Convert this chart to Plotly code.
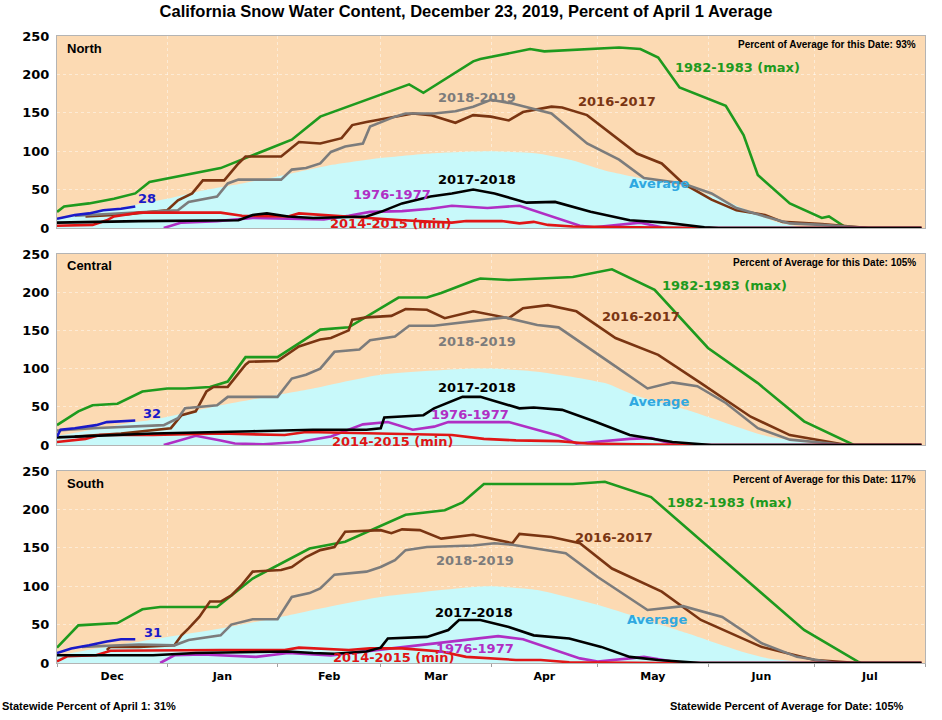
import pandas as pd
import plotly.graph_objects as go

# ---------------- data (day of season counted from Dec 1, percent of April 1 average) -------------
TITLE = "California Snow Water Content, December 23, 2019, Percent of April 1 Average"
REGIONS = ["North", "Central", "South"]
PCT_OF_AVG_DATE = ["93%", "105%", "117%"]
CURRENT = ["28", "32", "31"]
FOOT_LEFT = "Statewide Percent of April 1: 31%"
FOOT_RIGHT = "Statewide Percent of Average for Date: 105%"

N_AVG = [(0, 11), (10, 20), (22, 30), (31, 38), (40, 48), (52, 58), (62, 67), (76, 81), (90, 91), (104, 97),
         (116, 99.5), (121, 100), (134, 97), (144, 88), (153, 75), (165, 63), (176, 52), (186, 37), (195, 19),
         (201, 8), (207, 2), (212, 0), (242, 0)]
N_1983 = [(0, 21), (2, 28), (9, 32), (16, 38), (22, 45), (26, 60), (46, 78), (55, 95), (66, 115), (74, 145),
          (98, 187), (102, 176), (110, 199), (116, 217), (118, 220), (132, 233), (136, 230), (157, 235), (163, 233),
          (168, 222), (174, 183), (187, 159), (192, 121), (196, 69), (205, 32), (214, 13), (216, 15), (221, 0), (242, 0)]
N_2017 = [(8, 15), (20, 18), (31, 23), (34, 36), (38, 45), (41, 62), (47, 62), (51, 84), (53, 93), (63, 93), (68, 112),
          (74, 110), (80, 117), (83, 134), (87, 138), (96, 147), (99, 149), (104, 147), (111, 137), (116, 147),
          (121, 145), (126, 140), (130, 151), (138, 158), (141, 157), (148, 147), (156, 119), (162, 97), (169, 84),
          (175, 58), (183, 37), (190, 23), (198, 17), (203, 8), (214, 5), (221, 2), (227, 0), (242, 0)]
N_2019 = [(5, 16), (22, 20), (34, 23), (37, 34), (45, 41), (48, 58), (51, 63), (63, 63), (66, 76), (70, 78), (74, 84),
          (77, 99), (81, 106), (86, 110), (88, 132), (94, 145), (97, 149), (105, 149), (111, 152), (116, 158),
          (121, 167), (127, 162), (134, 154), (138, 149), (148, 110), (157, 89), (164, 65), (175, 58), (183, 45),
          (190, 26), (198, 15), (205, 6), (214, 4), (227, 0), (242, 0)]
N_2018 = [(0, 7), (23, 9), (51, 10), (55, 17), (59, 19), (65, 15), (72, 13), (87, 15), (90, 21), (96, 32), (104, 41),
          (110, 45), (116, 50), (122, 45), (131, 33), (139, 34), (149, 21), (160, 10), (170, 7), (181, 1), (185, 0),
          (242, 0)]
N_1977 = [(30, 0), (35, 7), (45, 9), (55, 13), (65, 12), (75, 11), (82, 16), (88, 21), (96, 22), (104, 25),
          (110, 29), (120, 26), (129, 29), (146, 3), (150, 1), (156, 4), (163, 7), (167, 3), (170, 0), (242, 0)]
N_2015 = [(0, 3), (10, 4), (14, 10), (16, 15), (23, 20), (46, 20), (52, 16), (65, 15), (68, 19), (82, 15), (96, 10),
          (110, 7), (114, 9), (124, 9), (129, 6), (133, 8), (137, 4), (144, 2), (160, 1), (180, 0), (242, 0)]
N_2020 = [(0, 12), (5, 17), (9, 19), (13, 23), (18, 25), (22, 28)]

C_AVG = [(0, 12), (10, 20), (22, 30), (27, 33), (46, 52), (65, 68), (72, 74), (90, 92), (116, 100), (121, 100),
         (134, 96), (153, 81), (162, 64), (176, 46), (190, 24), (199, 11), (209, 4), (214, 0), (242, 0)]
C_1983 = [(0, 26), (6, 44), (10, 52), (17, 54), (24, 70), (31, 74), (36, 74), (43, 76), (48, 83), (53, 115), (62, 115),
          (74, 151), (82, 154), (95, 193), (103, 193), (107, 199), (116, 215), (118, 218), (126, 216), (144, 220),
          (155, 230), (167, 203), (182, 127), (196, 81), (209, 31), (222, 2), (223, 0), (242, 0)]
C_2017 = [(5, 11), (18, 15), (32, 22), (35, 39), (39, 44), (42, 70), (44, 76), (48, 76), (53, 105), (54, 109),
          (62, 110), (68, 129), (74, 138), (77, 140), (82, 150), (83, 164), (87, 167), (93, 169), (97, 178), (103, 177),
          (108, 166), (116, 175), (126, 166), (130, 179), (137, 183), (145, 175), (156, 140), (168, 118), (180, 81),
          (194, 37), (205, 13), (218, 2), (221, 0), (242, 0)]
C_2019 = [(0, 19), (10, 22), (30, 26), (34, 35), (36, 48), (45, 52), (48, 63), (62, 63), (66, 87), (70, 92),
          (74, 100), (78, 122), (85, 125), (88, 137), (94, 142), (98, 156), (105, 156), (116, 162), (125, 167),
          (134, 157), (140, 154), (156, 103), (165, 74), (172, 82), (179, 77), (187, 55), (196, 22), (205, 7),
          (218, 1), (221, 0), (242, 0)]
C_2018 = [(0, 10), (27, 15), (55, 18), (72, 20), (87, 20), (90, 22), (91, 36), (102, 39), (105, 48), (113, 63),
          (118, 63), (129, 48), (133, 49), (141, 46), (150, 31), (160, 13), (172, 4), (183, 0), (242, 0)]
C_1977 = [(30, 0), (39, 12), (46, 6), (50, 2), (58, 1), (68, 4), (77, 11), (86, 27), (92, 30), (99, 20), (105, 24),
          (109, 30), (126, 30), (140, 12), (145, 2), (160, 8), (166, 9), (173, 0), (242, 0)]
C_2015 = [(0, 4), (8, 8), (12, 13), (27, 13), (46, 15), (64, 13), (70, 17), (80, 16), (96, 15), (110, 13), (119, 8),
          (128, 6), (140, 5), (148, 2), (162, 1), (180, 0), (242, 0)]
C_2020 = [(0, 11), (1, 20), (5, 22), (11, 26), (14, 30), (22, 32)]

S_AVG = [(0, 10), (10, 18), (22, 27), (27, 31), (46, 45), (65, 62), (72, 69), (90, 86), (116, 99), (121, 100),
         (134, 95), (153, 73), (162, 60), (176, 39), (190, 17), (199, 6), (208, 2), (214, 0), (242, 0)]
S_1983 = [(0, 20), (6, 49), (17, 52), (24, 70), (29, 73), (45, 73), (55, 110), (71, 149), (81, 158), (97, 193),
          (108, 199), (113, 209), (116, 221), (119, 233), (144, 233), (153, 236), (166, 216), (209, 43), (224, 2),
          (225, 0), (242, 0)]
S_2017 = [(14, 17), (15, 21), (23, 21), (33, 23), (35, 36), (37, 45), (40, 60), (43, 80), (46, 80), (49, 88),
          (52, 102), (55, 119), (63, 121), (66, 125), (70, 138), (74, 147), (78, 151), (81, 171), (90, 173), (93, 169),
          (96, 174), (101, 173), (107, 162), (116, 167), (127, 156), (129, 168), (138, 164), (146, 156), (155, 123),
          (165, 102), (169, 93), (180, 56), (197, 21), (212, 4), (224, 0), (242, 0)]
S_2019 = [(7, 21), (23, 24), (33, 23), (37, 30), (46, 36), (49, 50), (55, 57), (62, 57), (66, 86), (71, 91), (74, 97),
          (78, 115), (87, 119), (90, 125), (94, 134), (97, 147), (103, 151), (116, 153), (122, 156), (127, 154),
          (142, 143), (151, 112), (165, 69), (175, 74), (186, 60), (197, 26), (207, 8), (218, 0), (242, 0)]
S_2018 = [(0, 10), (27, 10), (39, 13), (65, 15), (72, 13), (78, 12), (87, 15), (90, 20), (92, 32), (103, 34),
          (109, 43), (112, 56), (118, 56), (126, 47), (133, 36), (143, 32), (152, 21), (160, 8), (168, 4), (180, 0),
          (242, 0)]
S_1977 = [(29, 0), (33, 10), (41, 11), (56, 8), (65, 13), (77, 10), (123, 35), (130, 31), (146, 6), (151, 2),
          (160, 6), (164, 8), (172, 2), (174, 0), (242, 0)]
S_2015 = [(0, 2), (3, 9), (11, 10), (15, 16), (46, 17), (64, 17), (68, 20), (72, 19), (82, 17), (88, 19), (96, 19),
          (107, 15), (114, 8), (128, 4), (135, 4), (143, 1), (170, 0), (242, 0)]
S_2020 = [(0, 13), (4, 19), (9, 23), (14, 28), (18, 31), (22, 31)]

# ---------------- styling ----------------
PEACH = "#FCDAB3"
CYAN = "#C8F9FA"
GREEN = "#1E9A1E"
BROWN = "#7A3512"
GRAY = "#7C7C7C"
BLACK = "#000000"
MAGENTA = "#B02FC4"
RED = "#E01616"
BLUE = "#1A1AC8"
AVGBLUE = "#2FA8E0"
LBL = "DejaVu Sans"
ARIAL = "Liberation Sans"

SERIES = [
    ("1982-1983", [N_1983, C_1983, S_1983], GREEN),
    ("2016-2017", [N_2017, C_2017, S_2017], BROWN),
    ("2018-2019", [N_2019, C_2019, S_2019], GRAY),
    ("1976-1977", [N_1977, C_1977, S_1977], MAGENTA),
    ("2014-2015", [N_2015, C_2015, S_2015], RED),
    ("2017-2018", [N_2018, C_2018, S_2018], BLACK),
    ("2019-2020", [N_2020, C_2020, S_2020], BLUE),
]
AVERAGES = [N_AVG, C_AVG, S_AVG]

BASE = pd.Timestamp("2018-12-01")


def to_date(d):
    # day of season on a 365-day calendar, shown on the 2019-2020 season axis
    t = BASE + pd.Timedelta(days=float(d))
    return t + pd.DateOffset(years=1)


def xs(pts):
    return [to_date(p[0]) for p in pts]


def ys(pts):
    return [p[1] for p in pts]


# label placements (day, value) per panel
LABELS = [
    [("1982-1983 (max)", 190.4, 208.7, GREEN, "center"), ("2016-2017", 156.4, 164.5, BROWN, "center"),
     ("2018-2019", 117, 169.7, GRAY, "center"), ("2017-2018", 117, 63.4, BLACK, "center"),
     ("1976-1977", 93.2, 43, MAGENTA, "center"), ("2014-2015 (min)", 92.8, 6, RED, "center"),
     ("Average", 168.1, 58, AVGBLUE, "center"), (CURRENT[0], 22.1, 37.8, BLUE, "left")],
    [("1982-1983 (max)", 186.7, 209.4, GREEN, "center"), ("2016-2017", 163.2, 168.8, BROWN, "center"),
     ("2018-2019", 117, 136, GRAY, "center"), ("2017-2018", 117, 75, BLACK, "center"),
     ("1976-1977", 115, 39.3, MAGENTA, "center"), ("2014-2015 (min)", 93.2, 4.4, RED, "center"),
     ("Average", 168.1, 56.7, AVGBLUE, "center"), (CURRENT[1], 23.5, 40.6, BLUE, "left")],
    [("1982-1983 (max)", 188.1, 208.7, GREEN, "center"), ("2016-2017", 155.7, 163.7, BROWN, "center"),
     ("2018-2019", 116.5, 133.2, GRAY, "center"), ("2017-2018", 116.2, 65.5, BLACK, "center"),
     ("1976-1977", 116.5, 19.1, MAGENTA, "center"), ("2014-2015 (min)", 93.6, 7, RED, "center"),
     ("Average", 167.6, 56.9, AVGBLUE, "center"), (CURRENT[2], 23.8, 39.5, BLUE, "left")],
]

DOMAINS = [(0.6938, 1.0), (0.3477, 0.6523), (0.0, 0.3062)]
REGION_Y = [0.936, 0.939, 0.936]
PCT_Y = [0.957, 0.957, 0.958]

fig = go.Figure()
annotations = []

for i in range(3):
    sfx = "" if i == 0 else str(i + 1)
    xa, ya = "x" + sfx, "y" + sfx
    avg = AVERAGES[i]
    fig.add_trace(go.Scatter(x=xs(avg), y=ys(avg), mode="lines", fill="tozeroy", fillcolor=CYAN,
                             line=dict(width=0, shape="spline", smoothing=0.6, color=CYAN),
                             xaxis=xa, yaxis=ya, showlegend=False, name="Average"))
    for name, data, color in SERIES:
        pts = data[i]
        fig.add_trace(go.Scatter(x=xs(pts), y=ys(pts), mode="lines", line=dict(color=color, width=2.6),
                                 xaxis=xa, yaxis=ya, showlegend=False, name=name))
    for text, d, v, color, anchor in LABELS[i]:
        annotations.append(dict(text=text, x=to_date(d), y=v, xref=xa, yref=ya, showarrow=False,
                                xanchor=anchor, yanchor="middle",
                                font=dict(family=LBL, size=13, color=color, weight="bold")))
    annotations.append(dict(text=REGIONS[i], x=0.009, y=REGION_Y[i], xref=xa + " domain", yref=ya + " domain",
                            showarrow=False, xanchor="left", yanchor="middle",
                            font=dict(family=ARIAL, size=13, color="black", weight="bold")))
    annotations.append(dict(text="Percent of Average for this Date: " + PCT_OF_AVG_DATE[i], x=0.992, y=PCT_Y[i],
                            xref=xa + " domain", yref=ya + " domain", showarrow=False, xanchor="right",
                            yanchor="middle", font=dict(family=ARIAL, size=10, color="black", weight="bold")))

annotations.append(dict(text=FOOT_LEFT, x=-57 / 868, y=(663 - 706) / 627, xref="paper", yref="paper",
                        showarrow=False, xanchor="left", yanchor="middle",
                        font=dict(family=ARIAL, size=11, color="black", weight="bold")))
annotations.append(dict(text=FOOT_RIGHT, x=(906 - 57) / 868, y=(663 - 706) / 627, xref="paper", yref="paper",
                        showarrow=False, xanchor="right", yanchor="middle",
                        font=dict(family=ARIAL, size=11, color="black", weight="bold")))

fig.update_layout(
    width=942, height=720,
    margin=dict(l=57, r=17, t=36, b=57),
    paper_bgcolor="white",
    plot_bgcolor=PEACH,
    title=dict(text=TITLE, x=466 / 942, xref="container", y=1 - 11 / 720, yref="container",
               xanchor="center", yanchor="middle",
               font=dict(family=ARIAL, size=16.5, color="black", weight="bold")),
    annotations=annotations,
    showlegend=False,
)

for i in range(3):
    sfx = "" if i == 0 else str(i + 1)
    xkey, ykey = "xaxis" + sfx, "yaxis" + sfx
    fig.layout[xkey] = dict(
        type="date", range=[to_date(0), to_date(243)], domain=[0, 1],
        anchor="y" + sfx, dtick="M1", tick0=to_date(0), tickformat="%b", ticklabelmode="period",
        showticklabels=(i == 2), ticks="outside" if i == 2 else "", ticklen=3, tickcolor="#A0A0A0",
        showgrid=True, gridcolor="rgba(255,255,255,0.45)", griddash="dot", gridwidth=1,
        showline=True, linecolor="#B4B4B4", linewidth=1, mirror=True, zeroline=False,
        tickfont=dict(family=LBL, size=11, color="black", weight="bold"),
        matches=None if i == 0 else "x",
    )
    fig.layout[ykey] = dict(
        range=[0, 250], domain=list(DOMAINS[i]), anchor="x" + sfx, dtick=50, tick0=0,
        showgrid=True, gridcolor="rgba(255,255,255,0.45)", griddash="dot", gridwidth=1,
        showline=True, linecolor="#B4B4B4", linewidth=1, mirror=True, zeroline=False,
        ticks="", ticklabelstandoff=4,
        tickfont=dict(family=LBL, size=13, color="black", weight="bold"),
    )

fig.write_html("out.html")
